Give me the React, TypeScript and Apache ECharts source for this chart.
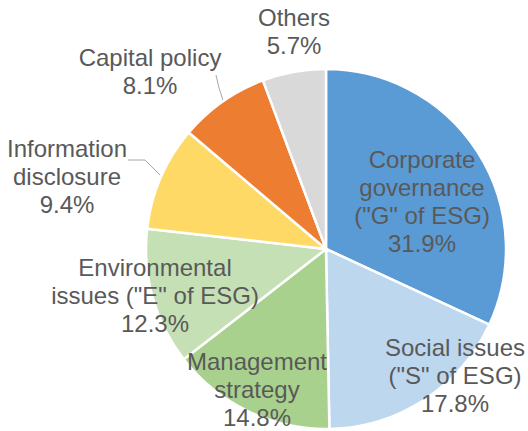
import React, { useEffect, useRef } from "react";
import * as echarts from "echarts";

const categories: string[] = [
  'Corporate\ngovernance\n("G" of ESG)',
  'Social issues\n("S" of ESG)',
  "Management\nstrategy",
  'Environmental\nissues ("E" of ESG)',
  "Information\ndisclosure",
  "Capital policy",
  "Others",
];
const values: number[] = [31.9, 17.8, 14.8, 12.3, 9.4, 8.1, 5.7];
const colors: string[] = ["#5B9BD5", "#BDD7EE", "#A9D18E", "#C5E0B4", "#FFD966", "#ED7D31", "#D9D9D9"];

// label centers (layout)
const labelPos: [number, number][] = [
  [422, 201],
  [455, 375],
  [257, 389],
  [155, 295],
  [67, 176],
  [150, 71],
  [294, 31],
];
const labelLines: ([number, number][] | null)[] = [
  null,
  null,
  null,
  null,
  [[160, 175], [145, 160], [128, 160]],
  [[223, 100], [219, 88], [216, 75]],
  null,
];

export default function App() {
  const ref = useRef<HTMLDivElement>(null);
  useEffect(() => {
    if (!ref.current) return;
    const chart = echarts.init(ref.current, undefined, { renderer: "svg" });
    chart.setOption({
      animation: false,
      series: [
        {
          type: "pie",
          center: [326, 249],
          radius: 180,
          startAngle: 90,
          clockwise: true,
          avoidLabelOverlap: false,
          itemStyle: { borderColor: "#ffffff", borderWidth: 2.5 },
          label: {
            show: true,
            position: "outside",
            color: "#595959",
            fontFamily: "Liberation Sans, Arial, sans-serif",
            fontSize: 24,
            lineHeight: 28,
            align: "center",
            formatter: (p: any) => `${p.name}\n${Number(p.value).toFixed(1)}%`,
          },
          labelLine: { show: true, lineStyle: { color: "#A6A6A6", width: 1 } },
          labelLayout: (params: any) => {
            const i = params.dataIndex;
            const res: any = {
              x: labelPos[i][0],
              y: labelPos[i][1],
              align: "center",
              verticalAlign: "middle",
            };
            if (labelLines[i]) res.labelLinePoints = labelLines[i];
            return res;
          },
          data: categories.map((name, i) => ({
            name,
            value: values[i],
            itemStyle: { color: colors[i] },
            labelLine: { show: labelLines[i] !== null },
          })),
        },
      ],
    });
    return () => chart.dispose();
  }, []);
  return (
    <div
      ref={ref}
      style={{ position: "absolute", left: 0, top: 0, width: 528, height: 431, background: "#ffffff" }}
    />
  );
}
